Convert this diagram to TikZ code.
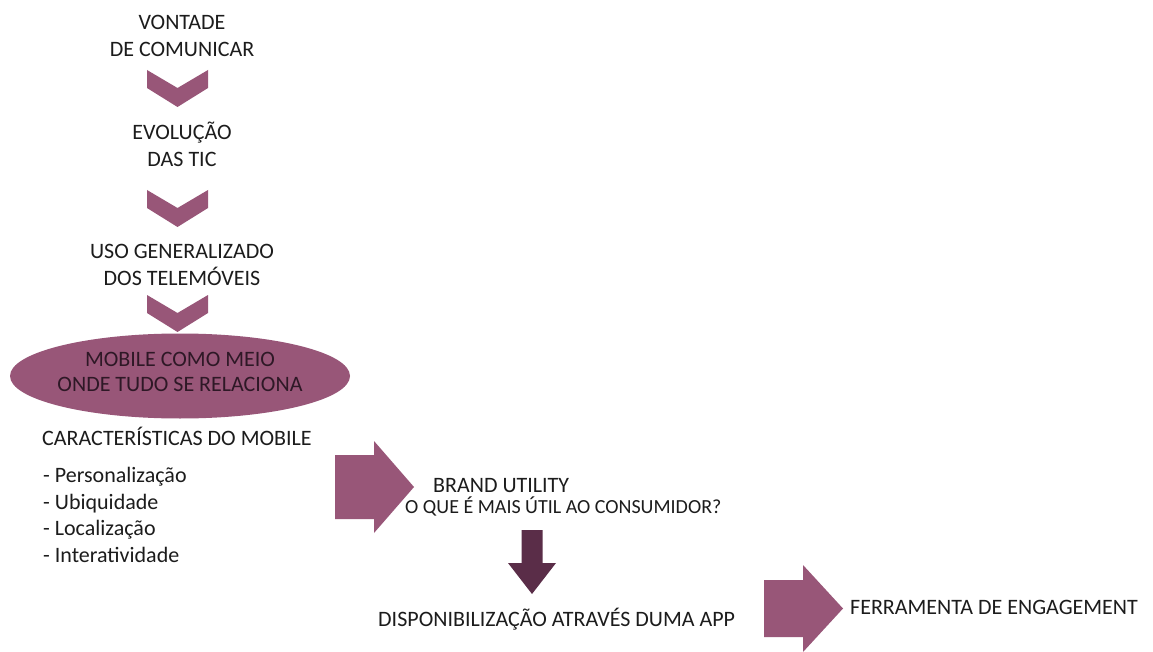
\documentclass[tikz,border=0pt]{standalone}
\usepackage{fontspec}
\setmainfont{Carlito}
\definecolor{plum}{HTML}{985678}
\definecolor{plumdark}{HTML}{5A2D48}
\definecolor{txt}{HTML}{1C1C1C}
\definecolor{ovaltxt}{HTML}{2E1826}
\tikzset{
  lbl/.style={inner sep=0pt, text=txt, font=\fontsize{22}{27}\selectfont, align=center, anchor=base},
  lbll/.style={lbl, align=left, anchor=base west},
  chev/.style={fill=plum, draw=none},
  blockarrow/.style={fill=plum, draw=none},
}
\begin{document}
\begin{tikzpicture}[x=1pt,y=-1pt]
\useasboundingbox (0,0) rectangle (1153,652);
\fill[white] (0,0) rectangle (1153,652);

% text nodes (base anchor = baseline of the last line)
\node[lbl] (n1) at (182,56.5) {VONTADE\\DE COMUNICAR};
\node[lbl] (n2) at (182,167) {EVOLUÇÃO\\DAS TIC};
\node[lbl] (n3) at (182,285) {USO GENERALIZADO\\DOS TELEMÓVEIS};

% chevrons
\fill[chev] (147,70) -- (177.5,88) -- (208,70) -- (208,88) -- (177.5,107) -- (147,88) -- cycle;
\fill[chev] (147,190) -- (177.5,208) -- (208,190) -- (208,208) -- (177.5,227) -- (147,208) -- cycle;
\fill[chev] (147,295) -- (177.5,313) -- (208,295) -- (208,313) -- (177.5,332) -- (147,313) -- cycle;

% ellipse
\fill[plum] (180,376) ellipse[x radius=170, y radius=42.5];
\node[lbl, text=ovaltxt] (n4) at (180,391.5) {MOBILE COMO MEIO\\[-2pt]ONDE TUDO SE RELACIONA};

% characteristics
\node[lbll] (n5) at (42,445) {CARACTERÍSTICAS DO MOBILE};
\node[lbll] (l1) at (43,482) {- Personalização};
\node[lbll] (l2) at (43,509) {- Ubiquidade};
\node[lbll] (l3) at (43,535) {- Localização};
\node[lbll] (l4) at (43,562) {- Interatividade};

% right arrow 1
\fill[blockarrow] (335,455) -- (374,455) -- (374,441) -- (414,487) -- (374,533) -- (374,519) -- (335,519) -- cycle;

\node[lbll] (n6) at (433,492) {BRAND UTILITY};
\node[lbll, font=\fontsize{20}{24}\selectfont] (n7) at (405,513) {O QUE É MAIS ÚTIL AO CONSUMIDOR?};

% down arrow
\fill[plumdark] (521.5,530) -- (542.5,530) -- (542.5,563) -- (556,563) -- (532,594) -- (508,563) -- (521.5,563) -- cycle;

\node[lbll] (n8) at (378,626) {DISPONIBILIZAÇÃO ATRAVÉS DUMA APP};

% right arrow 2
\fill[blockarrow] (764,580) -- (803,580) -- (803,565) -- (843,608.5) -- (803,652) -- (803,637) -- (764,637) -- cycle;

\node[lbll] (n9) at (850,614) {FERRAMENTA DE ENGAGEMENT};
\end{tikzpicture}
\end{document}
